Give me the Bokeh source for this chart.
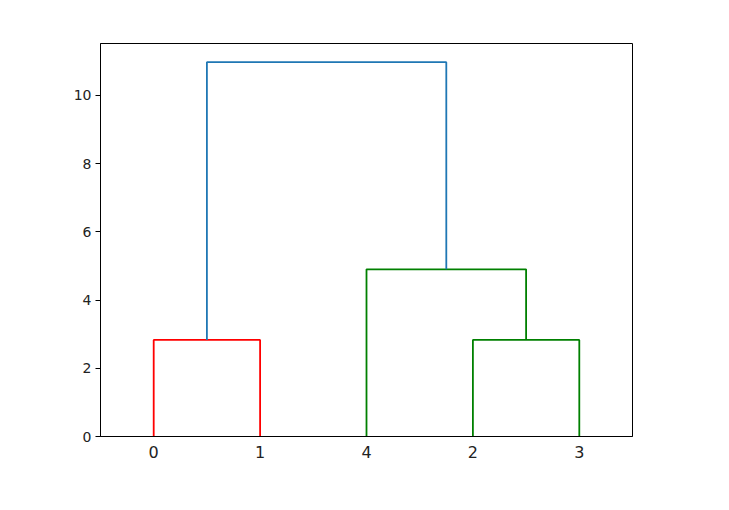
from bokeh.plotting import figure
from bokeh.models import FixedTicker, Range1d
from bokeh.embed import file_html
from bokeh.resources import INLINE

# Dendrogram data (leaf order and merge links)
leaf_labels = ["0", "1", "4", "2", "3"]
leaf_positions = [5, 15, 25, 35, 45]

link_x_left = [5, 35, 25, 10]
link_x_right = [15, 45, 40, 32.5]
link_y_left = [0, 0, 0, 2.83]
link_y_right = [0, 0, 2.83, 4.90]
link_height = [2.83, 2.83, 4.90, 10.97]
link_color = ["#ff0000", "#008000", "#008000", "#1f77b4"]

y_ticks = [0, 2, 4, 6, 8, 10]

p = figure(frame_width=532, frame_height=393,
           min_border_left=100, min_border_right=81,
           min_border_top=43, min_border_bottom=58,
           output_backend="svg", toolbar_location=None,
           x_range=Range1d(0, 50), y_range=Range1d(0, max(link_height) * 1.05))

for xl, xr, yl, yr, h, c in zip(link_x_left, link_x_right, link_y_left,
                                link_y_right, link_height, link_color):
    p.line([xl, xl, xr, xr], [yl, h, h, yr], line_color=c, line_width=1.8)

p.xgrid.visible = False
p.ygrid.visible = False
p.outline_line_color = "black"
p.outline_line_width = 1
p.background_fill_color = "white"
p.border_fill_color = "white"

xa = p.xaxis[0]
xa.ticker = FixedTicker(ticks=leaf_positions)
xa.major_label_overrides = {pos: lab for pos, lab in zip(leaf_positions, leaf_labels)}
xa.major_tick_line_color = None
xa.minor_tick_line_color = None
xa.major_tick_out = 0
xa.major_tick_in = 0
xa.major_label_standoff = 9
xa.major_label_text_font = "DejaVu Sans"
xa.major_label_text_font_size = "16px"
xa.major_label_text_color = "#222222"
xa.axis_line_color = "black"

ya = p.yaxis[0]
ya.ticker = FixedTicker(ticks=y_ticks)
ya.minor_tick_line_color = None
ya.major_tick_out = 5
ya.major_tick_in = 0
ya.major_label_standoff = 4
ya.major_label_text_font = "DejaVu Sans"
ya.major_label_text_font_size = "14px"
ya.major_label_text_color = "#222222"
ya.axis_line_color = "black"

open("out.html", "w").write(file_html(p, INLINE))
